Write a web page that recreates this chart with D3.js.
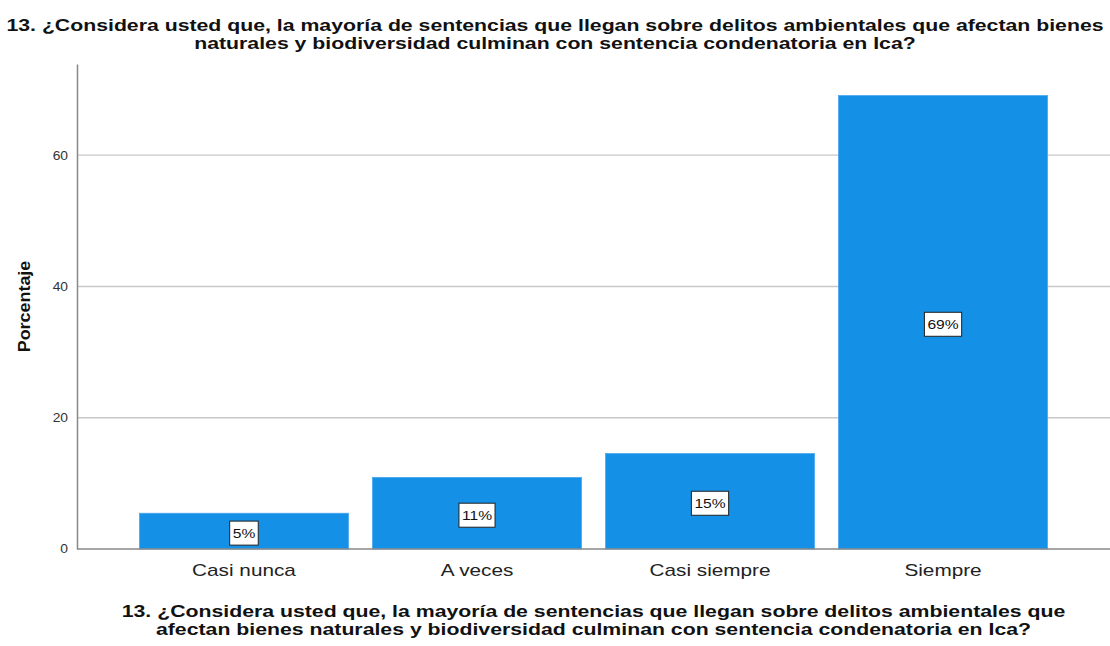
<!DOCTYPE html>
<html><head><meta charset="utf-8">
<script src="https://cdn.jsdelivr.net/npm/d3@7"></script>
<style>body{margin:0;background:#fff}svg{display:block;font-family:"Liberation Sans",Arial,sans-serif}</style>
</head><body><svg id="c" width="1110" height="646"></svg>
<script>
const categories = ["Casi nunca", "A veces", "Casi siempre", "Siempre"];
const values = [5.45, 10.91, 14.55, 69.09];
const valueLabels = ["5%", "11%", "15%", "69%"];
const yTicks = [0, 20, 40, 60];
const titleLines = ["13. ¿Considera usted que, la mayoría de sentencias que llegan sobre delitos ambientales que afectan bienes",
                    "naturales y biodiversidad culminan con sentencia condenatoria en Ica?"];
const xTitleLines = ["13. ¿Considera usted que, la mayoría de sentencias que llegan sobre delitos ambientales que",
                     "afectan bienes naturales y biodiversidad culminan con sentencia condenatoria en Ica?"];
const yTitle = "Porcentaje";

const svg = d3.select("#c");
const L = 77, R = 1110, T = 64, B = 549;
const x = d3.scaleBand().domain(categories).range([L, R]).paddingInner(0.103).paddingOuter(0.268);
const y = d3.scaleLinear().domain([0, 73.9]).range([B, T]);

function stretch(sel, k) {
  sel.each(function () {
    const w = this.getComputedTextLength();
    d3.select(this).attr("textLength", w * k).attr("lengthAdjust", "spacingAndGlyphs");
  });
}

// gridlines
svg.append("g").selectAll("line").data(yTicks.filter(d => d > 0)).join("line")
  .attr("x1", L).attr("x2", R).attr("y1", d => y(d)).attr("y2", d => y(d))
  .attr("stroke", "#c8c8c8").attr("stroke-width", 1.3);

// bars
svg.append("g").selectAll("rect").data(values).join("rect")
  .attr("x", (d, i) => x(categories[i])).attr("width", x.bandwidth())
  .attr("y", d => y(d)).attr("height", d => B - y(d))
  .attr("fill", "#1490e6").attr("stroke", "#4aa8ee").attr("stroke-width", 0.8);

// axes
const yAxis = d3.axisLeft(y).tickValues(yTicks).tickSize(0).tickPadding(9);
const gy = svg.append("g").attr("transform", `translate(${L},0)`).call(yAxis);
gy.select(".domain").attr("stroke", "#888").attr("stroke-width", 1.5);
gy.selectAll("text").attr("font-size", 12).attr("fill", "#333").attr("font-family", "Liberation Sans, Arial");
stretch(gy.selectAll("text"), 1.15);

const xAxis = d3.axisBottom(x).tickSize(0).tickPadding(15);
const gx = svg.append("g").attr("transform", `translate(0,${B})`).call(xAxis);
gx.select(".domain").attr("stroke", "#888").attr("stroke-width", 1.5).attr("d", `M${L},0H${R}`);
gx.selectAll("text").attr("font-size", 17).attr("fill", "#222").attr("font-family", "Liberation Sans, Arial");
stretch(gx.selectAll("text"), 1.22);

// value labels
const lg = svg.append("g").selectAll("g").data(values).join("g")
  .attr("transform", (d, i) => `translate(${x(categories[i]) + x.bandwidth() / 2},${y(d / 2) + 2})`);
lg.each(function (d, i) {
  const g = d3.select(this);
  const t = g.append("text").text(valueLabels[i]).attr("text-anchor", "middle").attr("dy", "0.36em")
    .attr("font-size", 13).attr("fill", "#111");
  const w0 = t.node().getComputedTextLength();
  const w = w0 * 1.2;
  t.attr("textLength", w).attr("lengthAdjust", "spacingAndGlyphs");
  g.insert("rect", "text").attr("x", -w / 2 - 3).attr("y", -12).attr("width", w + 6).attr("height", 24)
    .attr("fill", "#fff").attr("stroke", "#222").attr("stroke-width", 1);
});

// titles
const t1 = svg.append("text").attr("text-anchor", "middle").attr("font-weight", "bold").attr("font-size", 17).attr("fill", "#111");
t1.selectAll("tspan").data(titleLines).join("tspan").attr("x", 555).attr("y", (d, i) => 31 + i * 18).text(d => d);
stretch(t1.selectAll("tspan"), 1.25);
const t2 = svg.append("text").attr("text-anchor", "middle").attr("font-weight", "bold").attr("font-size", 17).attr("fill", "#111");
t2.selectAll("tspan").data(xTitleLines).join("tspan").attr("x", (L + R) / 2).attr("y", (d, i) => 617 + i * 18).text(d => d);
stretch(t2.selectAll("tspan"), 1.25);
const t3 = svg.append("text").attr("transform", `translate(30,${(T + B) / 2}) rotate(-90)`).attr("text-anchor", "middle")
  .attr("font-weight", "bold").attr("font-size", 16).attr("fill", "#111").text(yTitle);
stretch(t3, 1.12);
</script></body></html>
